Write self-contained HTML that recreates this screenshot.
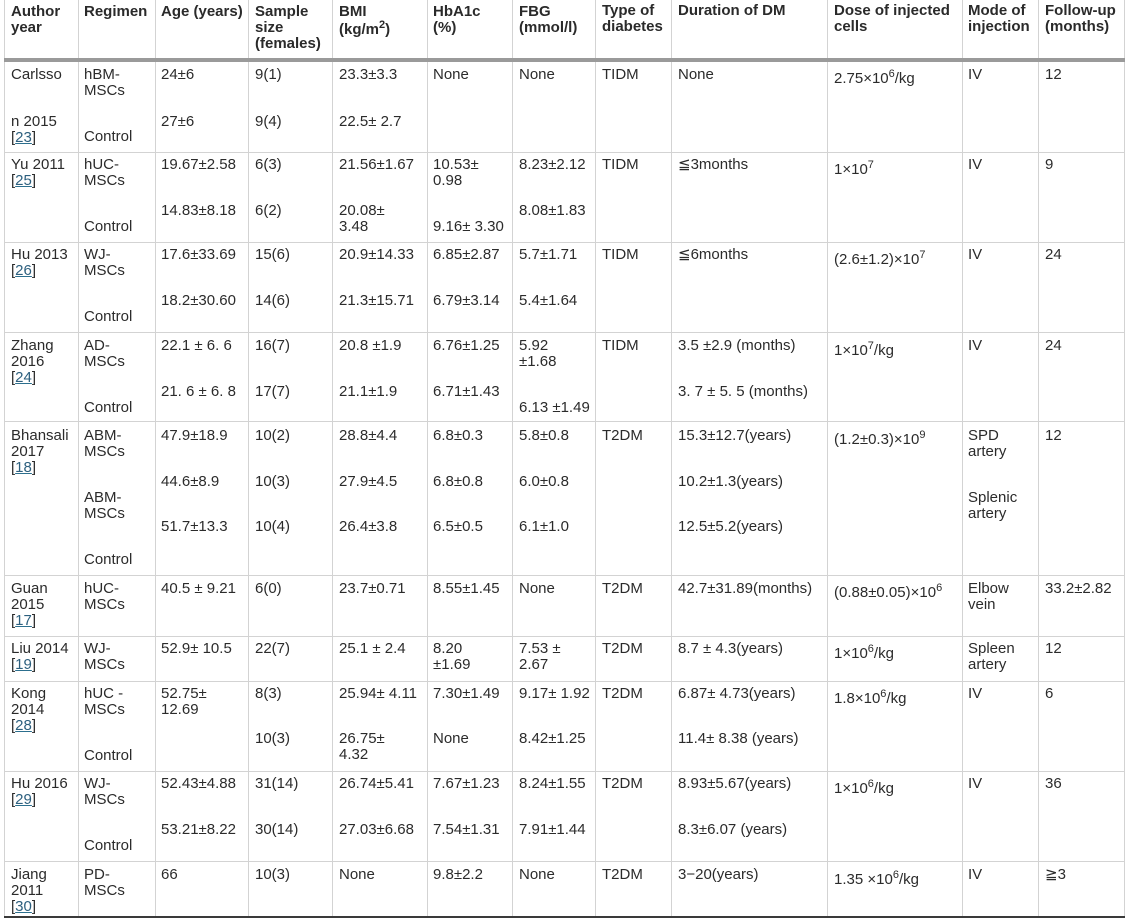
<!DOCTYPE html>
<html>
<head>
<meta charset="utf-8">
<style>
  html, body { margin:0; padding:0; }
  body { width:1131px; height:918px; position:relative; overflow:hidden; background:#fff;
         font-family:"Liberation Sans", "DejaVu Sans", sans-serif; color:#2b2b2b; }
  .t { position:absolute; font-size:15px; line-height:16px; white-space:nowrap; }
  .h { position:absolute; font-size:15px; line-height:16px; white-space:nowrap; font-weight:bold; color:#2a2a2a; }
  .v { position:absolute; top:0; width:1px; height:918px; background:#d3d3d3; }
  .hl { position:absolute; left:4px; width:1121px; height:1px; background:#d3d3d3; }
  .s { font-size:11px; position:relative; top:-6px; }
  .r { color:#2c5f7e; text-decoration:underline; text-decoration-color:#2c6f8e; }
</style>
</head>
<body>
<!-- vertical lines -->
<div class="v" style="left:4px"></div>
<div class="v" style="left:78px"></div>
<div class="v" style="left:155px"></div>
<div class="v" style="left:248px"></div>
<div class="v" style="left:332px"></div>
<div class="v" style="left:427px"></div>
<div class="v" style="left:512px"></div>
<div class="v" style="left:595px"></div>
<div class="v" style="left:671px"></div>
<div class="v" style="left:827px"></div>
<div class="v" style="left:962px"></div>
<div class="v" style="left:1038px"></div>
<div class="v" style="left:1124px"></div>
<!-- horizontal lines -->
<div class="hl" style="top:58px;height:4px;background:#9a9a9a"></div>
<div class="hl" style="top:152px"></div>
<div class="hl" style="top:242px"></div>
<div class="hl" style="top:332px"></div>
<div class="hl" style="top:421px"></div>
<div class="hl" style="top:575px"></div>
<div class="hl" style="top:636px"></div>
<div class="hl" style="top:681px"></div>
<div class="hl" style="top:771px"></div>
<div class="hl" style="top:861px"></div>
<div class="hl" style="top:916px;height:2px;background:#3a3a3a"></div>

<!-- header -->
<div class="h" style="left:11px;top:4px">Author<br>year</div>
<div class="h" style="left:84px;top:4px">Regimen</div>
<div class="h" style="left:161px;top:4px">Age (years)</div>
<div class="h" style="left:255px;top:4px">Sample<br>size<br>(females)</div>
<div class="h" style="left:339px;top:4px">BMI</div>
<div class="h" style="left:339px;top:22px">(kg/m<span class="s">2</span>)</div>
<div class="h" style="left:433px;top:4px">HbA1c<br>(%)</div>
<div class="h" style="left:519px;top:4px">FBG<br>(mmol/l)</div>
<div class="h" style="left:602px;top:3px">Type of<br>diabetes</div>
<div class="h" style="left:678px;top:3px">Duration of DM</div>
<div class="h" style="left:834px;top:3px">Dose of injected<br>cells</div>
<div class="h" style="left:968px;top:3px">Mode of<br>injection</div>
<div class="h" style="left:1045px;top:3px">Follow-up<br>(months)</div>

<!-- Row 1 Carlsson -->
<div class="t" style="left:11px;top:67px">Carlsso</div>
<div class="t" style="left:11px;top:114px">n 2015<br>[<span class="r">23</span>]</div>
<div class="t" style="left:84px;top:67px">hBM-<br>MSCs</div>
<div class="t" style="left:84px;top:129px">Control</div>
<div class="t" style="left:161px;top:67px">24±6</div>
<div class="t" style="left:161px;top:114px">27±6</div>
<div class="t" style="left:255px;top:67px">9(1)</div>
<div class="t" style="left:255px;top:114px">9(4)</div>
<div class="t" style="left:339px;top:67px">23.3±3.3</div>
<div class="t" style="left:339px;top:114px">22.5± 2.7</div>
<div class="t" style="left:433px;top:67px">None</div>
<div class="t" style="left:519px;top:67px">None</div>
<div class="t" style="left:602px;top:67px">TIDM</div>
<div class="t" style="left:678px;top:67px">None</div>
<div class="t" style="left:834px;top:71px">2.75×10<span class="s">6</span>/kg</div>
<div class="t" style="left:968px;top:67px">IV</div>
<div class="t" style="left:1045px;top:67px">12</div>

<!-- Row 2 Yu -->
<div class="t" style="left:11px;top:157px">Yu 2011<br>[<span class="r">25</span>]</div>
<div class="t" style="left:84px;top:157px">hUC-<br>MSCs</div>
<div class="t" style="left:84px;top:219px">Control</div>
<div class="t" style="left:161px;top:157px">19.67±2.58</div>
<div class="t" style="left:161px;top:203px">14.83±8.18</div>
<div class="t" style="left:255px;top:157px">6(3)</div>
<div class="t" style="left:255px;top:203px">6(2)</div>
<div class="t" style="left:339px;top:157px">21.56±1.67</div>
<div class="t" style="left:339px;top:203px">20.08±<br>3.48</div>
<div class="t" style="left:433px;top:157px">10.53±<br>0.98</div>
<div class="t" style="left:433px;top:219px">9.16± 3.30</div>
<div class="t" style="left:519px;top:157px">8.23±2.12</div>
<div class="t" style="left:519px;top:203px">8.08±1.83</div>
<div class="t" style="left:602px;top:157px">TIDM</div>
<div class="t" style="left:678px;top:157px">≦3months</div>
<div class="t" style="left:834px;top:162px">1×10<span class="s">7</span></div>
<div class="t" style="left:968px;top:157px">IV</div>
<div class="t" style="left:1045px;top:157px">9</div>

<!-- Row 3 Hu 2013 -->
<div class="t" style="left:11px;top:247px">Hu 2013<br>[<span class="r">26</span>]</div>
<div class="t" style="left:84px;top:247px">WJ-<br>MSCs</div>
<div class="t" style="left:84px;top:309px">Control</div>
<div class="t" style="left:161px;top:247px">17.6±33.69</div>
<div class="t" style="left:161px;top:293px">18.2±30.60</div>
<div class="t" style="left:255px;top:247px">15(6)</div>
<div class="t" style="left:255px;top:293px">14(6)</div>
<div class="t" style="left:339px;top:247px">20.9±14.33</div>
<div class="t" style="left:339px;top:293px">21.3±15.71</div>
<div class="t" style="left:433px;top:247px">6.85±2.87</div>
<div class="t" style="left:433px;top:293px">6.79±3.14</div>
<div class="t" style="left:519px;top:247px">5.7±1.71</div>
<div class="t" style="left:519px;top:293px">5.4±1.64</div>
<div class="t" style="left:602px;top:247px">TIDM</div>
<div class="t" style="left:678px;top:247px">≦6months</div>
<div class="t" style="left:834px;top:252px">(2.6±1.2)×10<span class="s">7</span></div>
<div class="t" style="left:968px;top:247px">IV</div>
<div class="t" style="left:1045px;top:247px">24</div>

<!-- Row 4 Zhang -->
<div class="t" style="left:11px;top:338px">Zhang<br>2016<br>[<span class="r">24</span>]</div>
<div class="t" style="left:84px;top:338px">AD-<br>MSCs</div>
<div class="t" style="left:84px;top:400px">Control</div>
<div class="t" style="left:161px;top:338px">22.1 ± 6. 6</div>
<div class="t" style="left:161px;top:384px">21. 6 ± 6. 8</div>
<div class="t" style="left:255px;top:338px">16(7)</div>
<div class="t" style="left:255px;top:384px">17(7)</div>
<div class="t" style="left:339px;top:338px">20.8 ±1.9</div>
<div class="t" style="left:339px;top:384px">21.1±1.9</div>
<div class="t" style="left:433px;top:338px">6.76±1.25</div>
<div class="t" style="left:433px;top:384px">6.71±1.43</div>
<div class="t" style="left:519px;top:338px">5.92<br>±1.68</div>
<div class="t" style="left:519px;top:400px">6.13 ±1.49</div>
<div class="t" style="left:602px;top:338px">TIDM</div>
<div class="t" style="left:678px;top:338px">3.5 ±2.9 (months)</div>
<div class="t" style="left:678px;top:384px">3. 7 ± 5. 5 (months)</div>
<div class="t" style="left:834px;top:343px">1×10<span class="s">7</span>/kg</div>
<div class="t" style="left:968px;top:338px">IV</div>
<div class="t" style="left:1045px;top:338px">24</div>

<!-- Row 5 Bhansali -->
<div class="t" style="left:11px;top:428px">Bhansali<br>2017<br>[<span class="r">18</span>]</div>
<div class="t" style="left:84px;top:428px">ABM-<br>MSCs</div>
<div class="t" style="left:84px;top:490px">ABM-<br>MSCs</div>
<div class="t" style="left:84px;top:552px">Control</div>
<div class="t" style="left:161px;top:428px">47.9±18.9</div>
<div class="t" style="left:161px;top:474px">44.6±8.9</div>
<div class="t" style="left:161px;top:519px">51.7±13.3</div>
<div class="t" style="left:255px;top:428px">10(2)</div>
<div class="t" style="left:255px;top:474px">10(3)</div>
<div class="t" style="left:255px;top:519px">10(4)</div>
<div class="t" style="left:339px;top:428px">28.8±4.4</div>
<div class="t" style="left:339px;top:474px">27.9±4.5</div>
<div class="t" style="left:339px;top:519px">26.4±3.8</div>
<div class="t" style="left:433px;top:428px">6.8±0.3</div>
<div class="t" style="left:433px;top:474px">6.8±0.8</div>
<div class="t" style="left:433px;top:519px">6.5±0.5</div>
<div class="t" style="left:519px;top:428px">5.8±0.8</div>
<div class="t" style="left:519px;top:474px">6.0±0.8</div>
<div class="t" style="left:519px;top:519px">6.1±1.0</div>
<div class="t" style="left:602px;top:428px">T2DM</div>
<div class="t" style="left:678px;top:428px">15.3±12.7(years)</div>
<div class="t" style="left:678px;top:474px">10.2±1.3(years)</div>
<div class="t" style="left:678px;top:519px">12.5±5.2(years)</div>
<div class="t" style="left:834px;top:432px">(1.2±0.3)×10<span class="s">9</span></div>
<div class="t" style="left:968px;top:428px">SPD<br>artery</div>
<div class="t" style="left:968px;top:490px">Splenic<br>artery</div>
<div class="t" style="left:1045px;top:428px">12</div>

<!-- Row 6 Guan -->
<div class="t" style="left:11px;top:581px">Guan<br>2015<br>[<span class="r">17</span>]</div>
<div class="t" style="left:84px;top:581px">hUC-<br>MSCs</div>
<div class="t" style="left:161px;top:581px">40.5 ± 9.21</div>
<div class="t" style="left:255px;top:581px">6(0)</div>
<div class="t" style="left:339px;top:581px">23.7±0.71</div>
<div class="t" style="left:433px;top:581px">8.55±1.45</div>
<div class="t" style="left:519px;top:581px">None</div>
<div class="t" style="left:602px;top:581px">T2DM</div>
<div class="t" style="left:678px;top:581px">42.7±31.89(months)</div>
<div class="t" style="left:834px;top:585px">(0.88±0.05)×10<span class="s">6</span></div>
<div class="t" style="left:968px;top:581px">Elbow<br>vein</div>
<div class="t" style="left:1045px;top:581px">33.2±2.82</div>

<!-- Row 7 Liu -->
<div class="t" style="left:11px;top:641px">Liu 2014<br>[<span class="r">19</span>]</div>
<div class="t" style="left:84px;top:641px">WJ-<br>MSCs</div>
<div class="t" style="left:161px;top:641px">52.9± 10.5</div>
<div class="t" style="left:255px;top:641px">22(7)</div>
<div class="t" style="left:339px;top:641px">25.1 ± 2.4</div>
<div class="t" style="left:433px;top:641px">8.20<br>±1.69</div>
<div class="t" style="left:519px;top:641px">7.53 ±<br>2.67</div>
<div class="t" style="left:602px;top:641px">T2DM</div>
<div class="t" style="left:678px;top:641px">8.7 ± 4.3(years)</div>
<div class="t" style="left:834px;top:646px">1×10<span class="s">6</span>/kg</div>
<div class="t" style="left:968px;top:641px">Spleen<br>artery</div>
<div class="t" style="left:1045px;top:641px">12</div>

<!-- Row 8 Kong -->
<div class="t" style="left:11px;top:686px">Kong<br>2014<br>[<span class="r">28</span>]</div>
<div class="t" style="left:84px;top:686px">hUC -<br>MSCs</div>
<div class="t" style="left:84px;top:748px">Control</div>
<div class="t" style="left:161px;top:686px">52.75±<br>12.69</div>
<div class="t" style="left:255px;top:686px">8(3)</div>
<div class="t" style="left:255px;top:731px">10(3)</div>
<div class="t" style="left:339px;top:686px">25.94± 4.11</div>
<div class="t" style="left:339px;top:731px">26.75±<br>4.32</div>
<div class="t" style="left:433px;top:686px">7.30±1.49</div>
<div class="t" style="left:433px;top:731px">None</div>
<div class="t" style="left:519px;top:686px">9.17± 1.92</div>
<div class="t" style="left:519px;top:731px">8.42±1.25</div>
<div class="t" style="left:602px;top:686px">T2DM</div>
<div class="t" style="left:678px;top:686px">6.87± 4.73(years)</div>
<div class="t" style="left:678px;top:731px">11.4± 8.38 (years)</div>
<div class="t" style="left:834px;top:691px">1.8×10<span class="s">6</span>/kg</div>
<div class="t" style="left:968px;top:686px">IV</div>
<div class="t" style="left:1045px;top:686px">6</div>

<!-- Row 9 Hu 2016 -->
<div class="t" style="left:11px;top:776px">Hu 2016<br>[<span class="r">29</span>]</div>
<div class="t" style="left:84px;top:776px">WJ-<br>MSCs</div>
<div class="t" style="left:84px;top:838px">Control</div>
<div class="t" style="left:161px;top:776px">52.43±4.88</div>
<div class="t" style="left:161px;top:822px">53.21±8.22</div>
<div class="t" style="left:255px;top:776px">31(14)</div>
<div class="t" style="left:255px;top:822px">30(14)</div>
<div class="t" style="left:339px;top:776px">26.74±5.41</div>
<div class="t" style="left:339px;top:822px">27.03±6.68</div>
<div class="t" style="left:433px;top:776px">7.67±1.23</div>
<div class="t" style="left:433px;top:822px">7.54±1.31</div>
<div class="t" style="left:519px;top:776px">8.24±1.55</div>
<div class="t" style="left:519px;top:822px">7.91±1.44</div>
<div class="t" style="left:602px;top:776px">T2DM</div>
<div class="t" style="left:678px;top:776px">8.93±5.67(years)</div>
<div class="t" style="left:678px;top:822px">8.3±6.07 (years)</div>
<div class="t" style="left:834px;top:781px">1×10<span class="s">6</span>/kg</div>
<div class="t" style="left:968px;top:776px">IV</div>
<div class="t" style="left:1045px;top:776px">36</div>

<!-- Row 10 Jiang -->
<div class="t" style="left:11px;top:867px">Jiang<br>2011<br>[<span class="r">30</span>]</div>
<div class="t" style="left:84px;top:867px">PD-<br>MSCs</div>
<div class="t" style="left:161px;top:867px">66</div>
<div class="t" style="left:255px;top:867px">10(3)</div>
<div class="t" style="left:339px;top:867px">None</div>
<div class="t" style="left:433px;top:867px">9.8±2.2</div>
<div class="t" style="left:519px;top:867px">None</div>
<div class="t" style="left:602px;top:867px">T2DM</div>
<div class="t" style="left:678px;top:867px">3−20(years)</div>
<div class="t" style="left:834px;top:872px">1.35 ×10<span class="s">6</span>/kg</div>
<div class="t" style="left:968px;top:867px">IV</div>
<div class="t" style="left:1045px;top:867px">≧3</div>
</body>
</html>
